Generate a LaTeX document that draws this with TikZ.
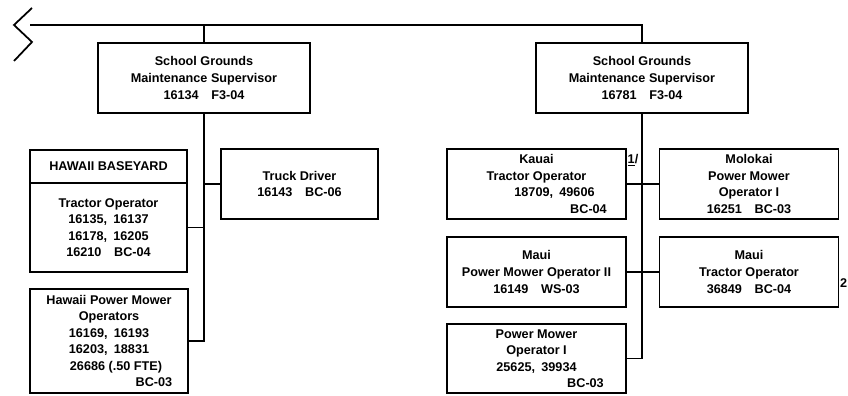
\documentclass[tikz,border=0pt]{standalone}
\usepackage{fontspec}
\setmainfont{Liberation Sans}
\tikzset{
  box/.style={draw, line width=1.5pt, align=center, inner sep=0pt, outer sep=0pt,
    font=\fontsize{10.8}{14.1}\selectfont\bfseries},
  supbox/.style={box, minimum width=6.36cm, minimum height=2.1cm},
  unitbox/.style={box, minimum width=4.71cm, minimum height=2.1cm},
  islebox/.style={box, minimum width=5.37cm, minimum height=2.1cm},
  wire/.style={line width=1.5pt},
  note/.style={font=\fontsize{10.8}{13}\selectfont\bfseries, inner sep=0pt}
}
\begin{document}
\begin{tikzpicture}[x=0.03cm, y=-0.03cm]
  \useasboundingbox (0,0) rectangle (848,395);
  % supervisors
  \node[supbox] (supa) at (204,78) {School Grounds\\Maintenance Supervisor\\16134\quad F3-04};
  \node[supbox] (supb) at (642,78) {School Grounds\\Maintenance Supervisor\\16781\quad F3-04};
  \coordinate (top) at (30,25);
  \draw[wire] (32,8) -- (14,25) -- (32,42) -- (14,61);
  \draw[wire] (top) -- (top -| supb.north) -- (supb.north);
  \draw[wire] (supa.north) -- (supa.north |- top);
  % Hawaii
  \node[box, minimum width=4.71cm, minimum height=0.99cm] (yardhead) at (108.5,166.5) {HAWAII BASEYARD};
  \node[box, minimum width=4.71cm, minimum height=2.67cm, anchor=north] (yard) at (yardhead.south)
    {Tractor Operator\\16135,\enspace16137\\16178,\enspace16205\\16210\quad BC-04};
  \node[unitbox] (truck) at (299.5,184) {Truck Driver\\16143\quad BC-06};
  \node[box, minimum width=4.74cm, minimum height=3.12cm] (mower) at (109,341)
    {Hawaii Power Mower\\Operators\\16169,\enspace16193\\16203,\enspace18831\\
     \hspace*{0.42cm}26686 (.50 FTE)\\\hspace*{2.7cm}BC-03};
  \draw[wire] (supa.south) -- (supa.south |- mower.east) -- (mower.east);
  \draw[wire] (yard.east) -- (yard.east -| supa.south);
  \draw[wire] (truck.west) -- (truck.west -| supa.south);
  % Kauai, Molokai, Maui
  \node[islebox] (kauai) at (536.5,184) {Kauai\\Tractor Operator\\\hspace*{1.08cm}18709,\enspace49606\\\hspace*{3.12cm}BC-04};
  \node[islebox] (molokai) at (749,184) {Molokai\\Power Mower\\Operator I\\16251\quad BC-03};
  \node[islebox] (mauimow) at (536.5,272) {Maui\\Power Mower Operator II\\16149\quad WS-03};
  \node[islebox] (mauitrac) at (749,272) {Maui\\Tractor Operator\\36849\quad BC-04};
  \node[box, minimum width=5.37cm, minimum height=2.07cm] (mowone) at (536.5,358.5)
    {Power Mower\\Operator I\\25625,\enspace39934\\\hspace*{2.94cm}BC-03};
  \draw[wire] (supb.south) -- (supb.south |- mowone.east) -- (mowone.east);
  \draw[wire] (kauai.east) -- (molokai.west);
  \draw[wire] (mauimow.east) -- (mauitrac.west);
  \node[note] (noteone) at (633,160) {\underline{1}/};
  \node[note, anchor=west] (notetwo) at (840,283) {2};
\end{tikzpicture}
\end{document}
